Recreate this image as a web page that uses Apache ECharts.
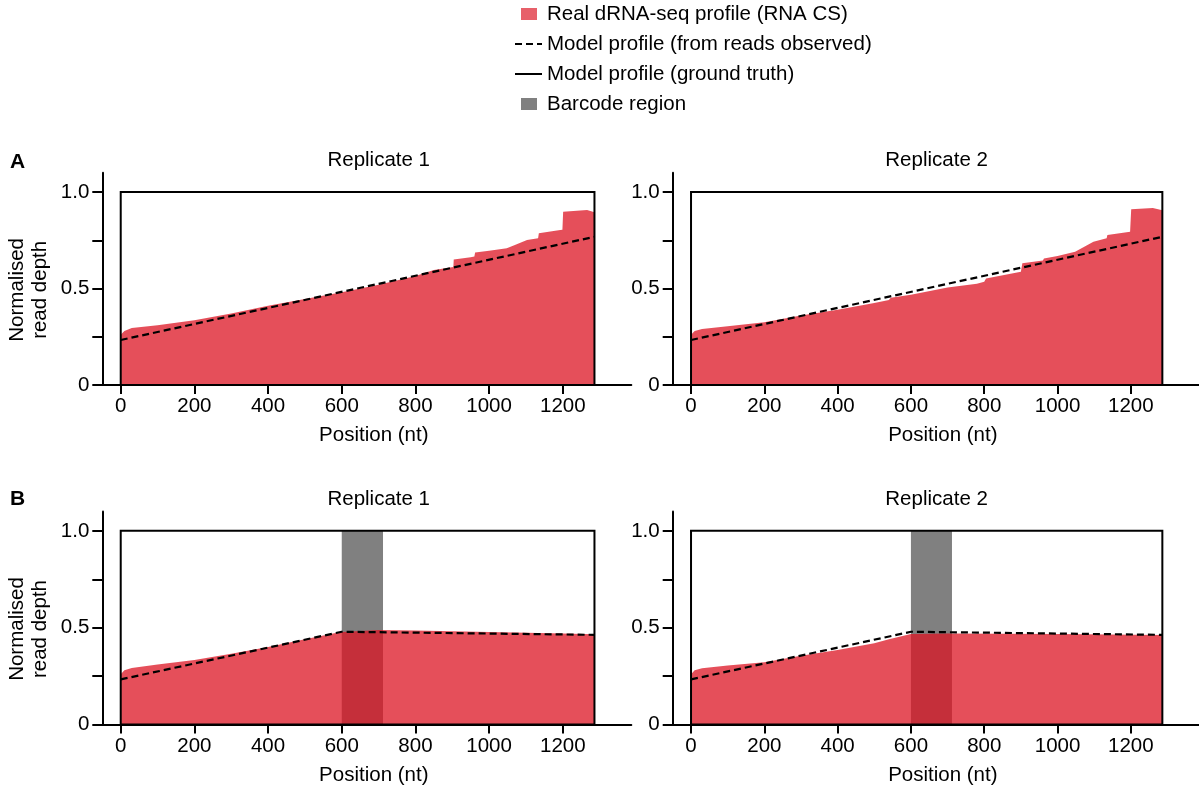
<!DOCTYPE html>
<html>
<head>
<meta charset="utf-8">
<script src="https://cdn.jsdelivr.net/npm/echarts@6/dist/echarts.min.js"></script>
<style>
  html, body { margin: 0; padding: 0; background: #fff; }
  #chart { width: 1199px; height: 787px; }
</style>
</head>
<body>
<div id="chart"></div>
<script>
// ---- data ----
const xTicks = [0, 200, 400, 600, 800, 1000, 1200];
const yTicks = [0, 0.25, 0.5, 0.75, 1];
const yLabelTicks = [0, 0.5, 1];
const seqLength = 1286;
const barcodeRegion = [600, 712];

// A, replicate 1
const posA1 = [0, 10, 30, 100, 200, 300, 400, 500, 600, 700, 800, 850, 903, 904, 950, 960, 962, 1000, 1048, 1070, 1103, 1133, 1135, 1193, 1199, 1201, 1266, 1286];
const depthA1 = [0.26, 0.28, 0.295, 0.31, 0.335, 0.37, 0.41, 0.445, 0.48, 0.52, 0.565, 0.596, 0.612, 0.65, 0.662, 0.666, 0.686, 0.695, 0.708, 0.725, 0.751, 0.76, 0.786, 0.803, 0.805, 0.898, 0.907, 0.895];
// A, replicate 2
const posA2 = [0, 10, 30, 100, 200, 300, 400, 500, 540, 545, 600, 700, 780, 800, 805, 900, 904, 960, 963, 1000, 1048, 1098, 1134, 1136, 1198, 1201, 1260, 1286];
const depthA2 = [0.26, 0.28, 0.29, 0.305, 0.325, 0.36, 0.39, 0.425, 0.44, 0.452, 0.468, 0.505, 0.525, 0.535, 0.552, 0.587, 0.631, 0.645, 0.656, 0.668, 0.69, 0.742, 0.76, 0.777, 0.794, 0.91, 0.917, 0.905];
// B, replicate 1
const posB1 = [0, 10, 30, 100, 200, 300, 400, 500, 590, 600, 700, 800, 1000, 1200, 1286];
const depthB1 = [0.26, 0.28, 0.292, 0.31, 0.333, 0.365, 0.4, 0.44, 0.475, 0.478, 0.488, 0.485, 0.478, 0.47, 0.466];
// B, replicate 2
const posB2 = [0, 10, 30, 100, 200, 300, 400, 500, 540, 600, 700, 1000, 1286];
const depthB2 = [0.26, 0.28, 0.29, 0.305, 0.322, 0.355, 0.385, 0.42, 0.44, 0.468, 0.47, 0.467, 0.462];

// model profiles (dashed)
const modelPosA = [0, 1286];
const modelDepthA = [0.233, 0.768];
const modelPosB = [0, 600, 1286];
const modelDepthB = [0.233, 0.479, 0.463];

const panelTitles = ['Replicate 1', 'Replicate 2', 'Replicate 1', 'Replicate 2'];
const panelLetters = ['A', 'B'];

// ---- layout ----
const FONT = '"Liberation Sans", Arial, Helvetica, sans-serif';
const FS = 20.5;
const RED = 'rgb(220,20,35)';
const NAME_REAL = 'Real dRNA-seq profile (RNA CS)';
const NAME_OBS = 'Model profile (from reads observed)';
const NAME_TRUTH = 'Model profile (ground truth)';
const NAME_BARCODE = 'Barcode region';

const zip = (xs, ys) => xs.map((x, i) => [x, ys[i]]);
const profiles = [zip(posA1, depthA1), zip(posA2, depthA2), zip(posB1, depthB1), zip(posB2, depthB2)];
const models = [zip(modelPosA, modelDepthA), zip(modelPosA, modelDepthA), zip(modelPosB, modelDepthB), zip(modelPosB, modelDepthB)];

const grids = [
  { left: 102.3, top: 172.7, width: 529, height: 212.3 },
  { left: 672.7, top: 172.7, width: 529, height: 212.3 },
  { left: 102.3, top: 511.5, width: 529, height: 213 },
  { left: 672.7, top: 511.5, width: 529, height: 213 }
];

const axisLine = { show: true, onZero: false, lineStyle: { color: '#000', width: 2 } };

const xAxes = grids.map((g, i) => ({
  type: 'value', gridIndex: i, min: -50, max: 1386,
  axisLine,
  axisTick: { show: true, customValues: xTicks, length: 9, lineStyle: { color: '#000', width: 2 } },
  axisLabel: {
    customValues: xTicks, fontSize: FS, fontFamily: FONT, color: '#000', margin: 11,
    formatter: v => String(v)
  },
  splitLine: { show: false },
  name: 'Position (nt)', nameLocation: 'middle', nameGap: 40,
  nameTextStyle: { fontSize: FS, fontFamily: FONT, color: '#000', padding: [0, 0, 0, 14] }
}));

const yAxes = grids.map((g, i) => ({
  type: 'value', gridIndex: i, min: 0, max: 1.1,
  axisLine,
  axisTick: { show: true, customValues: yTicks, length: 10, lineStyle: { color: '#000', width: 2 } },
  axisLabel: {
    customValues: yLabelTicks, fontSize: FS, fontFamily: FONT, color: '#000', margin: 13,
    formatter: v => (v === 0 ? '0' : v.toFixed(1))
  },
  splitLine: { show: false },
  name: i % 2 === 0 ? 'Normalised\nread depth' : '',
  nameLocation: 'middle', nameGap: 50, nameRotate: 90,
  nameTextStyle: { fontSize: FS, fontFamily: FONT, color: '#000', lineHeight: 23, padding: [0, 22, 0, 0] }
}));

const series = [];
grids.forEach((g, i) => {
  if (i >= 2) {
    series.push({
      name: NAME_BARCODE, type: 'line', xAxisIndex: i, yAxisIndex: i, data: [], z: 1,
      color: '#808080', symbol: 'none', silent: true,
      markArea: {
        silent: true, z: 1,
        itemStyle: { color: '#808080', opacity: 1 },
        data: [[{ coord: [barcodeRegion[0], 0] }, { coord: [barcodeRegion[1], 1] }]]
      }
    });
  }
  series.push({
    name: NAME_REAL, type: 'line', xAxisIndex: i, yAxisIndex: i, z: 2,
    data: profiles[i], symbol: 'none', silent: true, color: RED,
    lineStyle: { width: 0 },
    areaStyle: { color: RED, opacity: 0.75 }
  });
  series.push({
    name: NAME_OBS, type: 'line', xAxisIndex: i, yAxisIndex: i, z: 5,
    data: models[i], symbol: 'none', silent: true, color: '#000',
    lineStyle: { color: '#000', width: 2.2, type: [7, 4] },
    markArea: {
      silent: true, z: 10,
      itemStyle: { color: 'rgba(0,0,0,0)', borderColor: '#000', borderWidth: 2 },
      data: [[{ coord: [0, 0] }, { coord: [seqLength, 1] }]]
    }
  });
});
series.push({
  name: NAME_TRUTH, type: 'line', xAxisIndex: 0, yAxisIndex: 0, data: [], symbol: 'none',
  color: '#000', lineStyle: { color: '#000', width: 2, type: 'solid' }
});

const rectIcon = 'path://M0,0M27,14M6,1h16v12h-16z';

const titles = panelTitles.map((t, i) => ({
  text: t, left: i % 2 === 0 ? 373.7 : 931.6, top: i < 2 ? 144.5 : 484, textAlign: 'center',
  textStyle: { fontSize: FS, fontWeight: 'normal', fontFamily: FONT, color: '#000' }
}));
panelLetters.forEach((l, i) => titles.push({
  text: l, left: 5, top: i === 0 ? 147 : 484,
  textStyle: { fontSize: 21, fontWeight: 'bold', fontFamily: FONT, color: '#000' }
}));

const chart = echarts.init(document.getElementById('chart'), null, { renderer: 'canvas' });
chart.setOption({
  animation: false,
  backgroundColor: '#fff',
  title: titles,
  legend: {
    orient: 'vertical', left: 509, top: -1.5, itemWidth: 27, itemHeight: 14, itemGap: 9,
    selectedMode: false,
    textStyle: { fontSize: FS, fontFamily: FONT, color: '#000', lineHeight: 20 },
    data: [
      { name: NAME_REAL, icon: rectIcon, itemStyle: { color: 'rgba(220,20,35,0.68)' } },
      { name: NAME_OBS, itemStyle: { opacity: 0 } },
      { name: NAME_TRUTH, itemStyle: { opacity: 0 } },
      { name: NAME_BARCODE, icon: rectIcon, itemStyle: { color: '#808080' } }
    ]
  },
  grid: grids,
  xAxis: xAxes,
  yAxis: yAxes,
  series
});
</script>
</body>
</html>
